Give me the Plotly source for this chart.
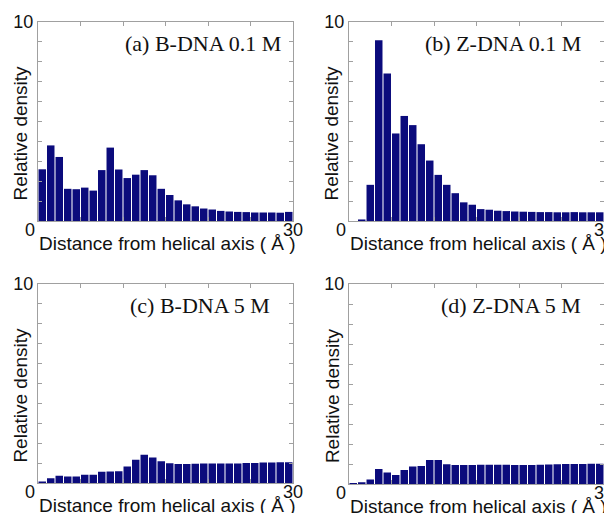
import plotly.graph_objects as go

# bin centres (Å)
distance = [i + 0.5 for i in range(30)]

b_dna_01 = [2.60, 3.80, 3.22, 1.62, 1.60, 1.68, 1.53, 2.56, 3.69, 2.59, 2.16, 2.33, 2.56, 2.30, 1.62,
            1.31, 1.04, 0.84, 0.74, 0.63, 0.58, 0.51, 0.48, 0.46, 0.45, 0.43, 0.43, 0.43, 0.42, 0.46]
z_dna_01 = [0.00, 0.08, 1.82, 9.08, 7.41, 4.40, 5.28, 4.82, 3.86, 3.04, 2.32, 1.82, 1.40, 0.94, 0.82,
            0.60, 0.57, 0.52, 0.50, 0.48, 0.47, 0.46, 0.45, 0.45, 0.44, 0.44, 0.45, 0.44, 0.44, 0.44]
b_dna_5 = [0.08, 0.25, 0.37, 0.33, 0.33, 0.42, 0.42, 0.57, 0.59, 0.60, 0.84, 1.17, 1.42, 1.29, 1.10,
           1.00, 0.96, 0.96, 0.97, 0.99, 0.99, 0.99, 0.98, 0.99, 1.01, 1.01, 1.03, 1.03, 1.05, 1.05]
z_dna_5 = [0.03, 0.10, 0.23, 0.75, 0.58, 0.45, 0.70, 0.88, 0.91, 1.21, 1.21, 0.99, 0.95, 0.95, 0.96,
           0.97, 0.97, 0.97, 0.97, 0.96, 0.96, 0.96, 0.97, 0.98, 0.99, 1.00, 1.01, 1.01, 1.02, 1.02]

panel_labels = ["(a) B-DNA 0.1 M", "(b) Z-DNA 0.1 M", "(c) B-DNA 5 M", "(d) Z-DNA 5 M"]
series = [b_dna_01, z_dna_01, b_dna_5, z_dna_5]
x_title = "Distance from helical axis ( Å )"
y_title = "Relative density"

# empirical mapping from figure pixels to window pixels
OFF_X, OFF_Y, SY = 8, 16, 0.98
W = 612 - OFF_X
H = int(round((513 - OFF_Y) / SY))


def px(x):
    return (x - OFF_X) / W


def py(y):
    return 1 - ((y - OFF_Y) / SY) / H


# target pixel boxes in the window (left, right, top, bottom)
boxes = [(38, 293, 20, 219), (349, 604, 20, 219), (38, 293, 282, 481), (349, 604, 282, 482)]
label_right = [283, 583, 272, 583]

BAR = "#0b0b7c"
AX = "#a0a0a0"
SANS = "Liberation Sans"
TXT = "#111"

fig = go.Figure()
annotations = []
for i, (vals, (l, r, t, b)) in enumerate(zip(series, boxes)):
    n = "" if i == 0 else str(i + 1)
    fig.add_trace(go.Bar(x=distance, y=vals, xaxis="x" + n, yaxis="y" + n,
                         marker=dict(color=BAR, line=dict(width=0)), showlegend=False))
    fig.layout["xaxis" + n] = dict(domain=[px(l), px(r)], range=[0, 30], anchor="y" + n,
                                   tickvals=[0, 5, 10, 15, 20, 25, 30], showticklabels=False,
                                   ticks="inside", ticklen=4, tickcolor=AX, showline=True,
                                   linecolor=AX, linewidth=1, mirror="ticks", showgrid=False,
                                   zeroline=False, fixedrange=True)
    fig.layout["yaxis" + n] = dict(domain=[py(b), py(t)], range=[0, 10], anchor="x" + n,
                                   tickvals=list(range(11)),
                                   ticktext=[""] * 10 + ["10"],
                                   ticks="inside", ticklen=4, tickcolor=AX, showline=True,
                                   linecolor=AX, linewidth=1, mirror="ticks", showgrid=False,
                                   zeroline=False, tickfont=dict(family=SANS, size=18, color=TXT),
                                   fixedrange=True)
    annotations.append(dict(x=px(l - 8), y=py(b + 9), xref="paper", yref="paper",
                            text="0", showarrow=False, xanchor="center", yanchor="middle",
                            font=dict(family=SANS, size=18, color=TXT)))
    annotations.append(dict(x=px(r), y=py(b + 9), xref="paper", yref="paper",
                            text="30", showarrow=False, xanchor="center", yanchor="middle",
                            font=dict(family=SANS, size=18, color=TXT)))
    annotations.append(dict(x=px((l + r) / 2 + 2), y=py(b + 22), xref="paper", yref="paper",
                            text=x_title, showarrow=False, xanchor="center", yanchor="middle",
                            font=dict(family=SANS, size=19, color=TXT)))
    annotations.append(dict(x=px(l - 17), y=py((t + b) / 2 + 12), xref="paper", yref="paper",
                            text=y_title, showarrow=False, xanchor="center", yanchor="middle",
                            textangle=-90,
                            font=dict(family=SANS, size=19, color=TXT)))
    annotations.append(dict(x=px(label_right[i]), y=py(t + 21), xref="paper", yref="paper",
                            text=panel_labels[i], showarrow=False, xanchor="right", yanchor="middle",
                            font=dict(family="Liberation Serif", size=22, color=TXT)))

fig.update_layout(width=W, height=H, margin=dict(l=0, r=0, t=0, b=0),
                  paper_bgcolor="white", plot_bgcolor="white", bargap=0.12,
                  annotations=annotations)

fig.write_html("out.html")
